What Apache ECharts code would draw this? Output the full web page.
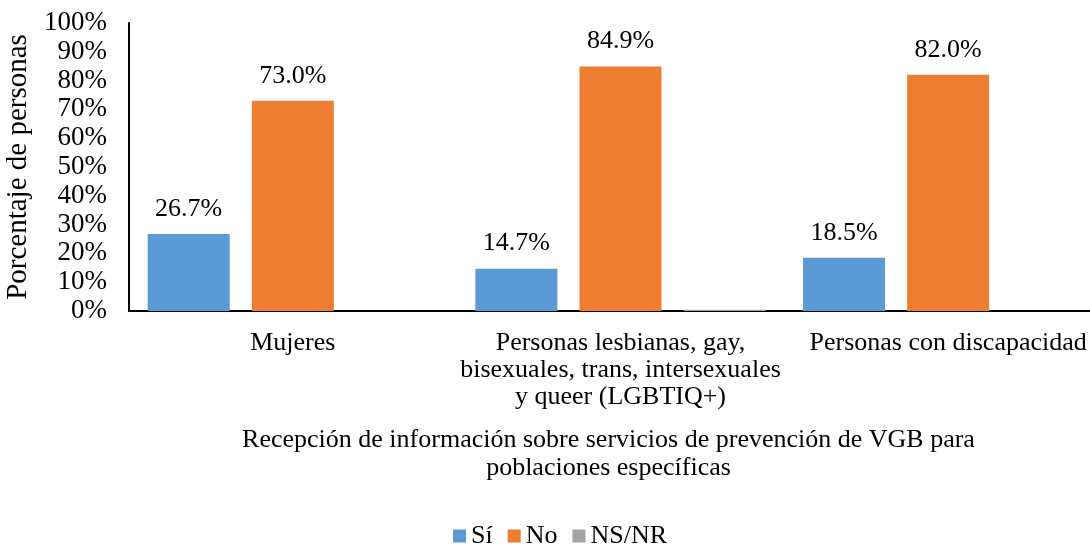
<!DOCTYPE html>
<html lang="es">
<head>
    <meta charset="utf-8">
    <title>Recepción de información VGB</title>
    <script src="https://cdn.jsdelivr.net/npm/echarts@6/dist/echarts.min.js"></script>
    <style>
        html, body { margin: 0; padding: 0; background: #fff; }
        #main { width: 1090px; height: 554px; }
    </style>
</head>
<body>
<div id="main"></div>

<script type="text/javascript">

    var categorias = [
        'Mujeres',
        'Personas lesbianas, gay,\nbisexuales, trans, intersexuales\ny queer (LGBTIQ+)',
        'Personas con discapacidad'
    ];
    var si = [26.7, 14.7, 18.5];
    var no = [73.0, 84.9, 82.0];
    var nsnr = [0, 0.4, 0];
    var yTicks = [0, 10, 20, 30, 40, 50, 60, 70, 80, 90, 100];

    var fuente = '"Liberation Serif", "Times New Roman", serif';

    var myChart = echarts.init(document.getElementById('main'));

    var etiqueta = {
        show: true,
        position: 'top',
        distance: 12,
        color: '#000',
        fontFamily: fuente,
        fontSize: 26,
        formatter: function (p) { return p.value.toFixed(1) + '%'; }
    };

    myChart.setOption({
        animation: false,
        textStyle: { fontFamily: fuente },
        grid: { left: 129, right: -22, top: 23, bottom: 243, outerBoundsMode: 'none' },
        legend: {
            bottom: 0,
            left: 448,
            icon: 'rect',
            itemWidth: 13,
            itemHeight: 13,
            itemGap: 15,
            textStyle: { fontFamily: fuente, fontSize: 26, color: '#000' },
            data: ['Sí', 'No', 'NS/NR']
        },
        xAxis: {
            type: 'category',
            data: categorias,
            axisLine: { lineStyle: { color: '#000', width: 2 } },
            axisTick: { show: false },
            axisLabel: {
                color: '#000', fontFamily: fuente, fontSize: 26,
                lineHeight: 27, margin: 19, interval: 0
            },
            name: 'Recepción de información sobre servicios de prevención de VGB para\npoblaciones específicas',
            nameLocation: 'middle',
            nameGap: 115,
            nameTextStyle: { color: '#000', fontFamily: fuente, fontSize: 26, lineHeight: 28, padding: [0, 24, 0, 0] }
        },
        yAxis: {
            type: 'value',
            min: yTicks[0],
            max: yTicks[yTicks.length - 1],
            interval: 10,
            splitLine: { show: false },
            axisLine: { show: true, lineStyle: { color: '#000', width: 2 } },
            axisTick: { show: false },
            axisLabel: {
                color: '#000', fontFamily: fuente, fontSize: 27, margin: 22,
                formatter: '{value}%'
            },
            name: 'Porcentaje de personas',
            nameLocation: 'middle',
            nameGap: 87,
            nameTextStyle: { color: '#000', fontFamily: fuente, fontSize: 29 }
        },
        series: [
            { name: 'Sí', type: 'bar', data: si, barWidth: 82, barGap: '27%',
              itemStyle: { color: '#5B9BD5' }, label: etiqueta },
            { name: 'No', type: 'bar', data: no, barWidth: 82, barGap: '27%',
              itemStyle: { color: '#ED7D31' }, label: etiqueta },
            { name: 'NS/NR', type: 'bar', data: nsnr, barWidth: 82, barGap: '27%',
              itemStyle: { color: '#A5A5A5' } }
        ]
    });

</script>
</body>
</html>
